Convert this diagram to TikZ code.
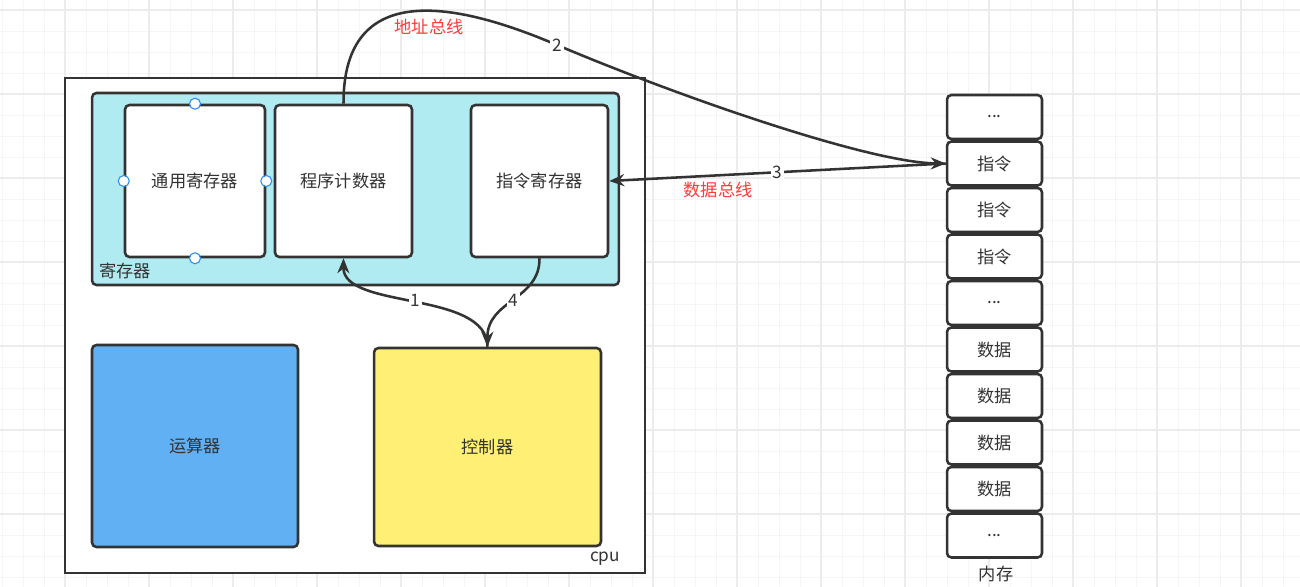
\documentclass[tikz,border=0pt]{standalone}
\usepackage{fontspec}
\usepackage{xcolor}
\usetikzlibrary{arrows.meta}
\newfontfamily\cjk{Noto Sans CJK SC}
\newcommand{\celldots}{...}
\definecolor{linegray}{RGB}{51,51,51}
\definecolor{regcyan}{RGB}{177,235,242}
\definecolor{alublue}{RGB}{97,176,244}
\definecolor{ctrlyellow}{RGB}{255,240,117}
\definecolor{busred}{RGB}{255,59,59}
\definecolor{handleblue}{RGB}{41,141,240}
\definecolor{gridminor}{RGB}{245,245,245}
\definecolor{gridmajor}{RGB}{236,236,236}
\tikzset{
  every node/.style={font=\cjk\fontsize{9.8}{12}\selectfont, text=linegray},
  box/.style={draw=linegray, line width=1.45pt, rounded corners=2.5pt, fill=white, inner sep=0pt},
  cell/.style={box, minimum width=1.9cm, minimum height=0.88cm},
  bus/.style={draw=linegray, line width=1.45pt, -{Stealth[length=0.3cm,width=0.24cm]}},
  num/.style={fill=white, inner sep=1pt},
  handle/.style={circle, draw=handleblue, fill=white, line width=0.6pt, inner sep=0pt, minimum size=0.22cm},
}

\begin{document}
\begin{tikzpicture}[x=0.02cm, y=-0.02cm]
\useasboundingbox (0,0) rectangle (1300,587);
\fill[white] (0,0) rectangle (1300,587);
% canvas grid
\foreach \gx in {2,23,...,1300} \draw[gridminor, line width=0.5pt] (\gx,0) -- (\gx,587);
\foreach \gy in {10,31,...,587} \draw[gridminor, line width=0.5pt] (0,\gy) -- (1300,\gy);
\foreach \gx in {65,149,...,1300} \draw[gridmajor, line width=0.6pt] (\gx,0) -- (\gx,587);
\foreach \gy in {10,94,...,587} \draw[gridmajor, line width=0.6pt] (0,\gy) -- (1300,\gy);

% cpu
\node[draw=linegray, line width=1.45pt, fill=white, inner sep=0pt, minimum width=11.6cm, minimum height=9.9cm] (cpu) at (355,325.5) {};
\node (cpulabel) at (605,559) {cpu};
\node[box, fill=regcyan, minimum width=10.54cm, minimum height=3.84cm] (regs) at (355.5,189) {};
\node (regslabel) at (125,271) {寄存器};
\node[box, minimum width=2.8cm, minimum height=3.04cm] (gpr) at (195,181) {通用寄存器};
\node[box, minimum width=2.74cm, minimum height=3.04cm] (pc) at (343.5,181) {程序计数器};
\node[box, minimum width=2.74cm, minimum height=3.04cm] (ir) at (539.5,181) {指令寄存器};
\node[box, fill=alublue, minimum width=4.12cm, minimum height=4.04cm] (alu) at (195,446) {运算器};
\node[box, fill=ctrlyellow, minimum width=4.54cm, minimum height=3.96cm] (ctrl) at (487.5,447) {控制器};
%\node[handle] (h0) at (gpr.center) {};
\node[handle] (htop) at (gpr.north) {};
\node[handle] (hbot) at (gpr.south) {};
\node[handle] (hleft) at (gpr.west) {};
\node[handle] (hright) at (gpr.east) {};

% memory
\foreach \txt [count=\i] in {\celldots,指令,指令,指令,\celldots,数据,数据,数据,数据,\celldots} {
  \pgfmathsetmacro\cy{117+46.5*(\i-1)}
  \node[cell] (mem\i) at (994.5,\cy) {\txt};
}
\node (memlabel) at (996,574) {内存};

% buses
\draw[bus] (pc.north) .. controls (343,-12) and (440,-5) .. (557,45) node[num] (n2) {2}
  .. controls (680,97) and (870,163) .. (mem2.west);
\draw[bus] (mem2.west) -- node[num] (n3) {3} (ir.east);
\draw[bus] (ctrl.north) .. controls (487,290) and (343,310) .. node[num] (n1) {1} (pc.south);
\draw[bus] (ir.south) .. controls (540,300) and (487,300) .. node[num] (n4) {4} (ctrl.north);
\node[text=busred] (addrbus) at (429,27) {地址总线};
\node[text=busred] (databus) at (718,190) {数据总线};
\end{tikzpicture}
\end{document}
